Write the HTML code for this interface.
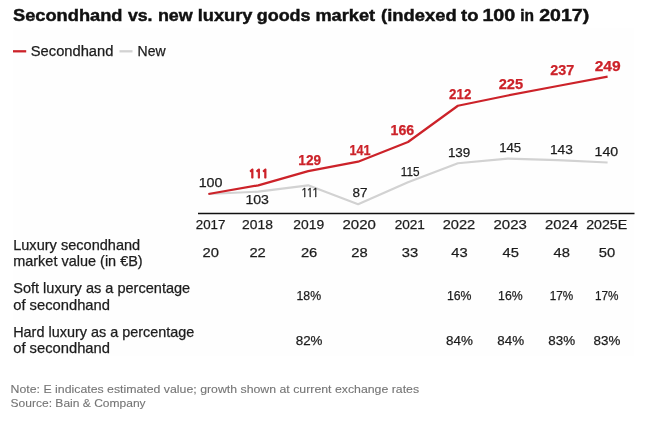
<!DOCTYPE html>
<html lang="en"><head><meta charset="utf-8"><title>Secondhand vs. new luxury goods market</title>
<style>
html,body{margin:0;padding:0;background:#fff;}
body{width:647px;height:445px;overflow:hidden;}
svg{display:block;font-family:"Liberation Sans",Arial,sans-serif;}
</style></head><body>
<svg width="647" height="445" viewBox="0 0 647 445">
<rect x="0" y="0" width="647" height="445" fill="#ffffff"/>
<rect x="13" y="28" width="621" height="328" fill="#fefefe"/>
<text y="21.4" font-size="17.2" font-weight="bold" fill="#111" stroke="#111" stroke-width="0.45"><tspan x="13.0" textLength="109.5" lengthAdjust="spacingAndGlyphs">Secondhand</tspan> <tspan x="127.9" textLength="24.6" lengthAdjust="spacingAndGlyphs">vs.</tspan> <tspan x="157.9" textLength="34.8" lengthAdjust="spacingAndGlyphs">new</tspan> <tspan x="197.8" textLength="54.7" lengthAdjust="spacingAndGlyphs">luxury</tspan> <tspan x="256.7" textLength="53.9" lengthAdjust="spacingAndGlyphs">goods</tspan> <tspan x="315.4" textLength="59.8" lengthAdjust="spacingAndGlyphs">market</tspan> <tspan x="381.1" textLength="75.5" lengthAdjust="spacingAndGlyphs">(indexed</tspan> <tspan x="461.0" textLength="17.4" lengthAdjust="spacingAndGlyphs">to</tspan> <tspan x="482.4" textLength="32.9" lengthAdjust="spacingAndGlyphs">100</tspan> <tspan x="520.2" textLength="13.8" lengthAdjust="spacingAndGlyphs">in</tspan> <tspan x="539.2" textLength="50.0" lengthAdjust="spacingAndGlyphs">2017)</tspan></text>
<line x1="13" y1="51.3" x2="26.2" y2="51.3" stroke="#cc2229" stroke-width="2.3"/>
<text x="30.8" y="55.7" font-size="13.8" fill="#1c1c1c" stroke="#1c1c1c" stroke-width="0.25" textLength="82.6" lengthAdjust="spacingAndGlyphs">Secondhand</text>
<line x1="119.5" y1="51.3" x2="132.5" y2="51.3" stroke="#d2d2d2" stroke-width="2.3"/>
<text x="137.6" y="55.7" font-size="13.8" fill="#1c1c1c" stroke="#1c1c1c" stroke-width="0.25" textLength="28" lengthAdjust="spacingAndGlyphs">New</text>
<polyline points="208.40,194.00 258.30,191.64 308.20,185.33 358.10,204.24 408.00,182.18 457.90,163.27 507.80,158.54 557.70,160.12 607.60,162.48" fill="none" stroke="#d2d2d2" stroke-width="2.2" stroke-linejoin="round"/>
<polyline points="208.40,194.00 258.30,185.33 308.20,171.15 358.10,161.69 408.00,141.99 457.90,105.74 507.80,95.50 557.70,86.04 607.60,76.59" fill="none" stroke="#cc2229" stroke-width="2.2" stroke-linejoin="round"/>
<line x1="198" y1="213.5" x2="634.5" y2="213.5" stroke="#111" stroke-width="1.3"/>
<text x="258.6" y="178.3" font-size="11.9" text-anchor="middle" font-family="NanumGothic,'Liberation Sans',sans-serif" font-weight="bold" fill="#cc2229" stroke="#cc2229" stroke-width="0.9" textLength="20.2" lengthAdjust="spacing">111</text>
<text x="309.75" y="164.7" font-size="13.8" text-anchor="middle" font-weight="bold" fill="#cc2229" stroke="#cc2229" stroke-width="0.25" textLength="22.8" lengthAdjust="spacingAndGlyphs">129</text>
<text x="360.1" y="155.0" font-size="13.8" text-anchor="middle" font-weight="bold" fill="#cc2229" stroke="#cc2229" stroke-width="0.25" textLength="21.0" lengthAdjust="spacingAndGlyphs">141</text>
<text x="402.4" y="134.7" font-size="13.8" text-anchor="middle" font-weight="bold" fill="#cc2229" stroke="#cc2229" stroke-width="0.25" textLength="23.6" lengthAdjust="spacingAndGlyphs">166</text>
<text x="460.2" y="98.9" font-size="13.8" text-anchor="middle" font-weight="bold" fill="#cc2229" stroke="#cc2229" stroke-width="0.25" textLength="22.2" lengthAdjust="spacingAndGlyphs">212</text>
<text x="510.9" y="89.2" font-size="13.8" text-anchor="middle" font-weight="bold" fill="#cc2229" stroke="#cc2229" stroke-width="0.25" textLength="24.400000000000002" lengthAdjust="spacingAndGlyphs">225</text>
<text x="562.2" y="75.4" font-size="13.8" text-anchor="middle" font-weight="bold" fill="#cc2229" stroke="#cc2229" stroke-width="0.25" textLength="24.0" lengthAdjust="spacingAndGlyphs">237</text>
<text x="607.7" y="71.2" font-size="13.8" text-anchor="middle" font-weight="bold" fill="#cc2229" stroke="#cc2229" stroke-width="0.25" textLength="26.0" lengthAdjust="spacingAndGlyphs">249</text>
<text x="210.6" y="187.3" font-size="13.5" text-anchor="middle" fill="#1c1c1c" stroke="#1c1c1c" stroke-width="0.25" textLength="23.8" lengthAdjust="spacingAndGlyphs">100</text>
<text x="257.2" y="203.9" font-size="13.5" text-anchor="middle" fill="#1c1c1c" stroke="#1c1c1c" stroke-width="0.25" textLength="23.6" lengthAdjust="spacingAndGlyphs">103</text>
<text x="309.8" y="196.9" font-size="11.8" text-anchor="middle" font-family="NanumGothic,'Liberation Sans',sans-serif" fill="#1c1c1c" stroke="#1c1c1c" stroke-width="0.35" textLength="18.0" lengthAdjust="spacing">111</text>
<text x="359.9" y="196.9" font-size="13.5" text-anchor="middle" fill="#1c1c1c" stroke="#1c1c1c" stroke-width="0.25" textLength="15.0" lengthAdjust="spacingAndGlyphs">87</text>
<text x="410.2" y="176.1" font-size="13.5" text-anchor="middle" fill="#1c1c1c" stroke="#1c1c1c" stroke-width="0.25" textLength="18.8" lengthAdjust="spacingAndGlyphs">115</text>
<text x="459.1" y="156.6" font-size="13.5" text-anchor="middle" fill="#1c1c1c" stroke="#1c1c1c" stroke-width="0.25" textLength="22.400000000000002" lengthAdjust="spacingAndGlyphs">139</text>
<text x="510.2" y="151.9" font-size="13.5" text-anchor="middle" fill="#1c1c1c" stroke="#1c1c1c" stroke-width="0.25" textLength="22.0" lengthAdjust="spacingAndGlyphs">145</text>
<text x="561.4" y="154.2" font-size="13.5" text-anchor="middle" fill="#1c1c1c" stroke="#1c1c1c" stroke-width="0.25" textLength="23.0" lengthAdjust="spacingAndGlyphs">143</text>
<text x="606.4" y="156.0" font-size="13.5" text-anchor="middle" fill="#1c1c1c" stroke="#1c1c1c" stroke-width="0.25" textLength="23.6" lengthAdjust="spacingAndGlyphs">140</text>
<text x="210.6" y="228.7" font-size="13.6" text-anchor="middle" fill="#1c1c1c" stroke="#1c1c1c" stroke-width="0.25" textLength="29.6" lengthAdjust="spacingAndGlyphs">2017</text>
<text x="257.5" y="228.7" font-size="13.6" text-anchor="middle" fill="#1c1c1c" stroke="#1c1c1c" stroke-width="0.25" textLength="30.8" lengthAdjust="spacingAndGlyphs">2018</text>
<text x="308.75" y="228.7" font-size="13.6" text-anchor="middle" fill="#1c1c1c" stroke="#1c1c1c" stroke-width="0.25" textLength="30.8" lengthAdjust="spacingAndGlyphs">2019</text>
<text x="359.2" y="228.7" font-size="13.6" text-anchor="middle" fill="#1c1c1c" stroke="#1c1c1c" stroke-width="0.25" textLength="33.3" lengthAdjust="spacingAndGlyphs">2020</text>
<text x="409.8" y="228.7" font-size="13.6" text-anchor="middle" fill="#1c1c1c" stroke="#1c1c1c" stroke-width="0.25" textLength="30.3" lengthAdjust="spacingAndGlyphs">2021</text>
<text x="459" y="228.7" font-size="13.6" text-anchor="middle" fill="#1c1c1c" stroke="#1c1c1c" stroke-width="0.25" textLength="32.5" lengthAdjust="spacingAndGlyphs">2022</text>
<text x="510.2" y="228.7" font-size="13.6" text-anchor="middle" fill="#1c1c1c" stroke="#1c1c1c" stroke-width="0.25" textLength="33.3" lengthAdjust="spacingAndGlyphs">2023</text>
<text x="561.5" y="228.7" font-size="13.6" text-anchor="middle" fill="#1c1c1c" stroke="#1c1c1c" stroke-width="0.25" textLength="33.0" lengthAdjust="spacingAndGlyphs">2024</text>
<text x="606.7" y="228.7" font-size="13.6" text-anchor="middle" fill="#1c1c1c" stroke="#1c1c1c" stroke-width="0.25" textLength="41.0" lengthAdjust="spacingAndGlyphs">2025E</text>
<text x="210.7" y="256.6" font-size="13.6" text-anchor="middle" fill="#1c1c1c" stroke="#1c1c1c" stroke-width="0.25" textLength="16.4" lengthAdjust="spacingAndGlyphs">20</text>
<text x="257.6" y="256.6" font-size="13.6" text-anchor="middle" fill="#1c1c1c" stroke="#1c1c1c" stroke-width="0.25" textLength="16.4" lengthAdjust="spacingAndGlyphs">22</text>
<text x="309.1" y="256.6" font-size="13.6" text-anchor="middle" fill="#1c1c1c" stroke="#1c1c1c" stroke-width="0.25" textLength="16.4" lengthAdjust="spacingAndGlyphs">26</text>
<text x="359.4" y="256.6" font-size="13.6" text-anchor="middle" fill="#1c1c1c" stroke="#1c1c1c" stroke-width="0.25" textLength="16.4" lengthAdjust="spacingAndGlyphs">28</text>
<text x="409.9" y="256.6" font-size="13.6" text-anchor="middle" fill="#1c1c1c" stroke="#1c1c1c" stroke-width="0.25" textLength="16.4" lengthAdjust="spacingAndGlyphs">33</text>
<text x="459.5" y="256.6" font-size="13.6" text-anchor="middle" fill="#1c1c1c" stroke="#1c1c1c" stroke-width="0.25" textLength="16.4" lengthAdjust="spacingAndGlyphs">43</text>
<text x="510.7" y="256.6" font-size="13.6" text-anchor="middle" fill="#1c1c1c" stroke="#1c1c1c" stroke-width="0.25" textLength="16.4" lengthAdjust="spacingAndGlyphs">45</text>
<text x="561.7" y="256.6" font-size="13.6" text-anchor="middle" fill="#1c1c1c" stroke="#1c1c1c" stroke-width="0.25" textLength="16.4" lengthAdjust="spacingAndGlyphs">48</text>
<text x="607" y="256.6" font-size="13.6" text-anchor="middle" fill="#1c1c1c" stroke="#1c1c1c" stroke-width="0.25" textLength="16.4" lengthAdjust="spacingAndGlyphs">50</text>
<text x="308.8" y="300.4" font-size="13.6" text-anchor="middle" fill="#1c1c1c" stroke="#1c1c1c" stroke-width="0.25" textLength="24.6" lengthAdjust="spacingAndGlyphs">18%</text>
<text x="459.2" y="300.4" font-size="13.6" text-anchor="middle" fill="#1c1c1c" stroke="#1c1c1c" stroke-width="0.25" textLength="24.6" lengthAdjust="spacingAndGlyphs">16%</text>
<text x="510.4" y="300.4" font-size="13.6" text-anchor="middle" fill="#1c1c1c" stroke="#1c1c1c" stroke-width="0.25" textLength="24.6" lengthAdjust="spacingAndGlyphs">16%</text>
<text x="561.4" y="300.4" font-size="13.6" text-anchor="middle" fill="#1c1c1c" stroke="#1c1c1c" stroke-width="0.25" textLength="23.5" lengthAdjust="spacingAndGlyphs">17%</text>
<text x="606.7" y="300.4" font-size="13.6" text-anchor="middle" fill="#1c1c1c" stroke="#1c1c1c" stroke-width="0.25" textLength="23.5" lengthAdjust="spacingAndGlyphs">17%</text>
<text x="309.1" y="344.8" font-size="13.6" text-anchor="middle" fill="#1c1c1c" stroke="#1c1c1c" stroke-width="0.25" textLength="26.8" lengthAdjust="spacingAndGlyphs">82%</text>
<text x="459.5" y="344.8" font-size="13.6" text-anchor="middle" fill="#1c1c1c" stroke="#1c1c1c" stroke-width="0.25" textLength="26.8" lengthAdjust="spacingAndGlyphs">84%</text>
<text x="510.7" y="344.8" font-size="13.6" text-anchor="middle" fill="#1c1c1c" stroke="#1c1c1c" stroke-width="0.25" textLength="26.8" lengthAdjust="spacingAndGlyphs">84%</text>
<text x="561.7" y="344.8" font-size="13.6" text-anchor="middle" fill="#1c1c1c" stroke="#1c1c1c" stroke-width="0.25" textLength="26.8" lengthAdjust="spacingAndGlyphs">83%</text>
<text x="607" y="344.8" font-size="13.6" text-anchor="middle" fill="#1c1c1c" stroke="#1c1c1c" stroke-width="0.25" textLength="26.8" lengthAdjust="spacingAndGlyphs">83%</text>
<text x="13.2" y="249.5" font-size="14.4" fill="#1c1c1c" stroke="#1c1c1c" stroke-width="0.25" textLength="127" lengthAdjust="spacingAndGlyphs">Luxury secondhand</text>
<text x="13.2" y="265.6" font-size="14.4" fill="#1c1c1c" stroke="#1c1c1c" stroke-width="0.25" textLength="129.5" lengthAdjust="spacingAndGlyphs">market value (in €B)</text>
<text x="13.2" y="293.3" font-size="14.4" fill="#1c1c1c" stroke="#1c1c1c" stroke-width="0.25" textLength="177" lengthAdjust="spacingAndGlyphs">Soft luxury as a percentage</text>
<text x="13.2" y="309.6" font-size="14.4" fill="#1c1c1c" stroke="#1c1c1c" stroke-width="0.25" textLength="96.8" lengthAdjust="spacingAndGlyphs">of secondhand</text>
<text x="13.2" y="336.8" font-size="14.4" fill="#1c1c1c" stroke="#1c1c1c" stroke-width="0.25" textLength="181.2" lengthAdjust="spacingAndGlyphs">Hard luxury as a percentage</text>
<text x="13.2" y="352.9" font-size="14.4" fill="#1c1c1c" stroke="#1c1c1c" stroke-width="0.25" textLength="96.8" lengthAdjust="spacingAndGlyphs">of secondhand</text>
<text x="10.6" y="392.7" font-size="11" fill="#757575" stroke="#757575" stroke-width="0.1" textLength="408.5" lengthAdjust="spacingAndGlyphs">Note: E indicates estimated value; growth shown at current exchange rates</text>
<text x="10.6" y="406.6" font-size="11" fill="#757575" stroke="#757575" stroke-width="0.1" textLength="135" lengthAdjust="spacingAndGlyphs">Source: Bain &amp; Company</text>
</svg>
</body></html>
